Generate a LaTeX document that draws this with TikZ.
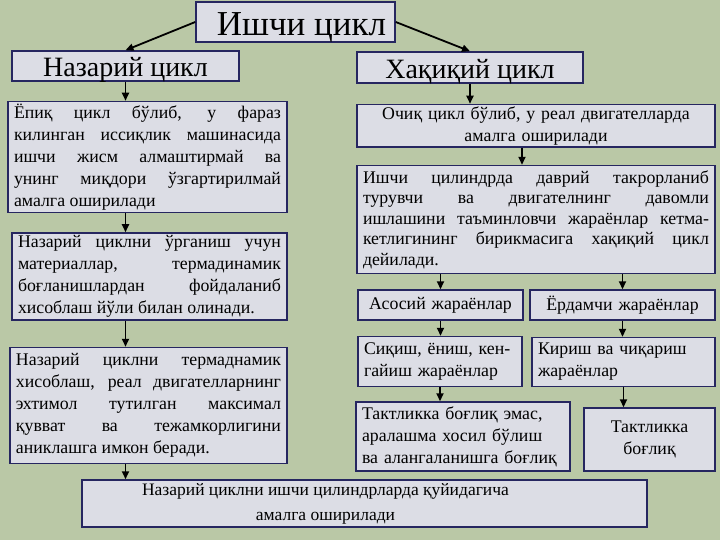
\documentclass[tikz,border=0pt]{standalone}
\usepackage{fontspec}
\setmainfont{Liberation Serif}
\usepackage{xcolor}
\usetikzlibrary{arrows.meta, positioning}
\definecolor{bgcol}{RGB}{186,200,166}
\definecolor{boxfill}{RGB}{220,221,229}
\definecolor{boxline}{RGB}{38,38,96}
\hyphenpenalty=10000
\tikzset{
  block/.style={
    rectangle, draw=boxline, fill=boxfill,
    line width=1.5pt, inner xsep=6pt, inner ysep=2pt,
    align=justify,
    font=\fontsize{17.8}{22}\selectfont
  },
  head/.style={
    rectangle, draw=boxline, fill=boxfill, line width=1.5pt,
    text height=22pt, text depth=0pt,
    font=\fontsize{28}{32}\selectfont
  },
  line/.style={draw, -{Triangle[length=8pt,width=7pt]}, line width=1.8pt},
}
\begin{document}
\begin{tikzpicture}[x=1pt, y=1pt]
  \useasboundingbox (0,0) rectangle (720,-540);
  \fill[bgcol] (0,0) rectangle (720,-540);

  % Heads
  \node[head, font=\fontsize{35}{40}\selectfont, text height=28pt,
    minimum width=199pt, minimum height=40pt] (title) at (295.5,-22)
    {\hspace*{12pt}Ишчи цикл};
  \node[head, minimum width=227pt, minimum height=30pt]
    (naz) at (125.5,-66) {Назарий цикл};
  \node[head, minimum width=226pt, minimum height=31pt]
    (haq) at (470,-67.5) {Хақиқий цикл};

  % Left column
  \node[block, text width=267pt, minimum height=111pt,
    below=19pt of naz, xshift=22pt] (nazA)
    {Ёпиқ цикл бўлиб, у фараз\linebreak килинган иссиқлик машинасида\linebreak
     ишчи жисм алмаштирмай ва\linebreak унинг миқдори ўзгартирилмай\linebreak
     амалга оширилади};
  \node[block, text width=263pt, minimum height=87pt,
    below=19pt of nazA, xshift=2pt] (nazB)
    {Назарий циклни ўрганиш учун\linebreak материаллар, термадинамик\linebreak
     боғланишлардан фойдаланиб\linebreak хисоблаш йўли билан олинади.};
  \node[block, text width=265pt, minimum height=116pt,
    below=26pt of nazB, xshift=-1pt] (nazC)
    {Назарий циклни термаднамик\linebreak хисоблаш, реал двигателларнинг\linebreak
     эхтимол тутилган максимал\linebreak қувват ва тежамкорлигини\linebreak
     аниклашга имкон беради.};

  % Right column
  \node[block, align=center, text width=346pt, minimum height=42pt,
    below=20pt of haq, xshift=66pt] (haqA)
    {Очиқ цикл бўлиб, у реал двигателларда\\ амалга оширилади};
  \node[block, text width=346pt, minimum height=108pt,
    below=17pt of haqA, font=\fontsize{17.8}{20.5}\selectfont] (haqB)
    {Ишчи цилиндрда даврий такрорланиб\linebreak турувчи ва двигателнинг давомли\linebreak
     ишлашини таъминловчи жараёнлар кетма-\linebreak кетлигининг бирикмасига хақиқий цикл\linebreak
     дейилади.};
  \node[block, align=center, text width=153pt, minimum height=30pt,
    below right=15pt and 1pt of haqB.south west] (asos) {Асосий жараёнлар};
  \node[block, align=center, text width=173pt, minimum height=30pt,
    below left=15pt and 0pt of haqB.south east] (yord) {Ёрдамчи жараёнлар};
  \node[block, align=left, text width=152pt, minimum height=50pt,
    below right=15pt and 0pt of asos.south west] (siq)
    {Сиқиш, ёниш, кен-\\гайиш жараёнлар};
  \node[block, align=left, text width=171pt, minimum height=49pt,
    below left=16pt and 0pt of yord.south east] (kir)
    {Кириш ва чиқариш\\жараёнлар};
  \node[block, align=left, text width=202pt, minimum height=69pt,
    below right=14pt and -2pt of siq.south west] (takA)
    {Тактликка боғлиқ эмас,\\аралашма хосил бўлиш\\ва алангаланишга боғлиқ};
  \node[block, align=center, text width=119pt, minimum height=63pt,
    below left=20pt and 0pt of kir.south east] (takB)
    {Тактликка\\боғлиқ};

  % Bottom
  \node[block, minimum height=47pt, font=\fontsize{17.5}{25}\selectfont]
    (amal) at (364.5,-503.5)
    {\parbox{475pt}{\centering Назарий циклни ишчи цилиндрларда қуйидагича\\
     амалга оширилади}\hspace{78pt}};

  % Arrows
  \draw[line] (title.west) -- (naz.north);
  \draw[line] (title.east) -- (haq.north);
  \draw[line] (naz) -- (naz |- nazA.north);
  \draw[line] (naz |- nazA.south) -- (naz |- nazB.north);
  \draw[line] (naz |- nazB.south) -- (naz |- nazC.north);
  \draw[line] (naz |- nazC.south) -- (naz |- amal.north);
  \draw[line] (haq) -- (haq |- haqA.north);
  \draw[line] ([xshift=-14pt]haqA.south) -- ([xshift=-14pt]haqB.north);
  \draw[line] (asos |- haqB.south) -- (asos);
  \draw[line] (yord |- haqB.south) -- (yord);
  \draw[line] (asos) -- (asos |- siq.north);
  \draw[line] (yord) -- (yord |- kir.north);
  \draw[line] (siq) -- (siq |- takA.north);
  \draw[line] (kir) -- (kir |- takB.north);
\end{tikzpicture}
\end{document}
